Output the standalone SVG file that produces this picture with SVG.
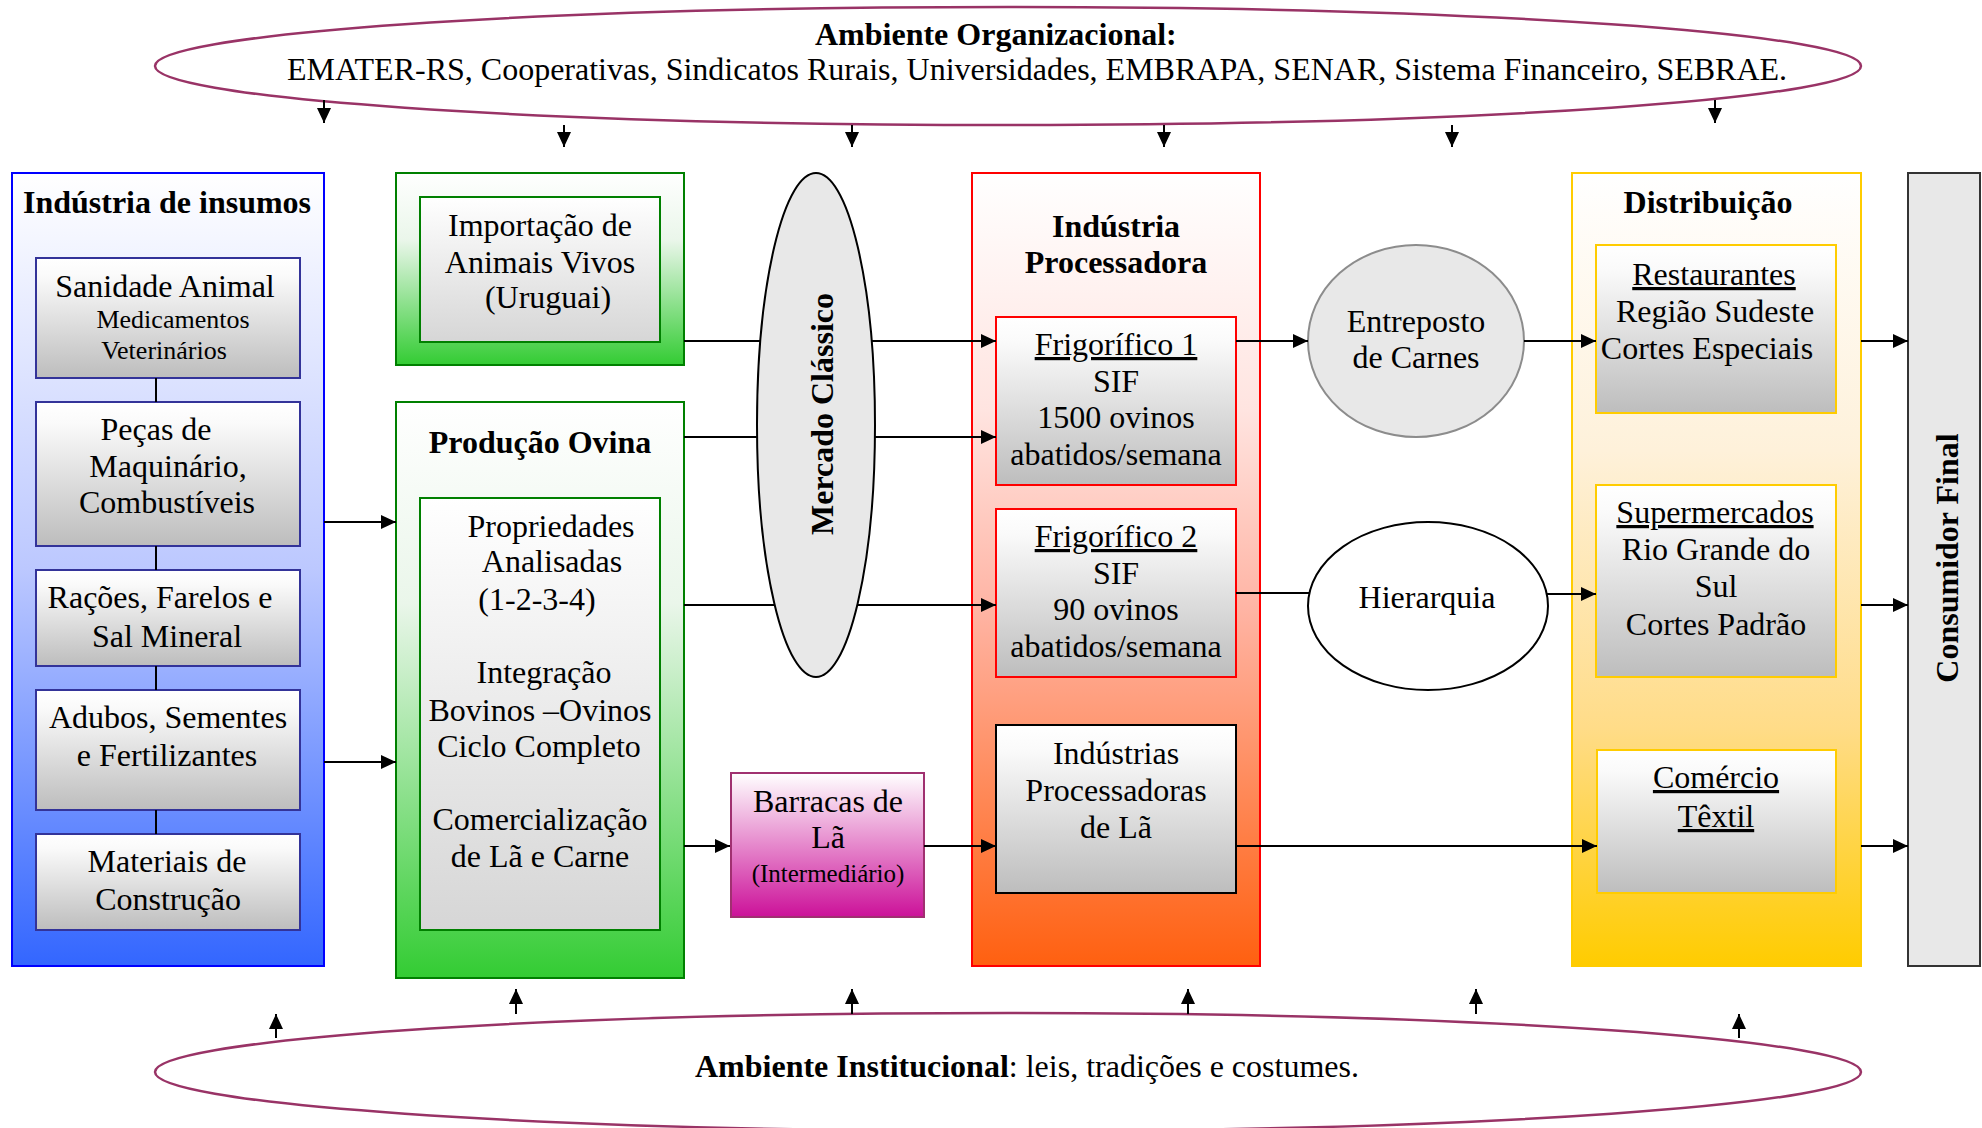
<svg xmlns="http://www.w3.org/2000/svg" width="1982" height="1128" viewBox="0 0 1982 1128">
<defs>
<style>
text{font-family:"Liberation Serif","Times New Roman",serif;font-size:32px;fill:#000}
.b{font-weight:bold}
.c{text-anchor:middle}
.s26{font-size:26px}
.s25{font-size:25px}
.u{text-decoration:underline}
.ln{stroke:#000;stroke-width:2;fill:none}
.ar{stroke:#000;stroke-width:2;fill:none;marker-end:url(#ah)}
.env{fill:none;stroke:#993366;stroke-width:2.5}
</style>
<marker id="ah" markerUnits="userSpaceOnUse" markerWidth="16" markerHeight="14" refX="15" refY="7" orient="auto">
<path d="M0,0 L15,7 L0,14 z" fill="#000"/>
</marker>
<linearGradient id="gBlue" x1="0" y1="0" x2="0" y2="1"><stop offset="0" stop-color="#ffffff"/><stop offset="0.5" stop-color="#bcc8ff"/><stop offset="1" stop-color="#3366ff"/></linearGradient>
<linearGradient id="gGreen" x1="0" y1="0" x2="0" y2="1"><stop offset="0" stop-color="#ffffff"/><stop offset="0.35" stop-color="#eaf6ea"/><stop offset="1" stop-color="#33cc33"/></linearGradient>
<linearGradient id="gRed" x1="0" y1="0" x2="0" y2="1"><stop offset="0" stop-color="#ffffff"/><stop offset="0.3" stop-color="#ffe4e0"/><stop offset="0.55" stop-color="#ffb4a4"/><stop offset="1" stop-color="#ff6010"/></linearGradient>
<linearGradient id="gYel" x1="0" y1="0" x2="0" y2="1"><stop offset="0" stop-color="#ffffff"/><stop offset="0.35" stop-color="#fef1da"/><stop offset="0.7" stop-color="#ffdc88"/><stop offset="1" stop-color="#ffcc00"/></linearGradient>
<linearGradient id="gMag" x1="0" y1="0" x2="0" y2="1"><stop offset="0" stop-color="#ffffff"/><stop offset="1" stop-color="#cc1199"/></linearGradient>
<linearGradient id="gGray" x1="0" y1="0" x2="0" y2="1"><stop offset="0" stop-color="#ffffff"/><stop offset="0.15" stop-color="#fafafa"/><stop offset="1" stop-color="#bdbdbd"/></linearGradient>
<linearGradient id="gGrayL" x1="0" y1="0" x2="0" y2="1"><stop offset="0" stop-color="#ffffff"/><stop offset="1" stop-color="#d6d6d6"/></linearGradient>
</defs>
<rect width="1982" height="1128" fill="#ffffff"/>

<g id="ambiente-organizacional">
<ellipse class="env" cx="1008" cy="66" rx="853" ry="59"/>
<text class="b" x="815" y="45">Ambiente Organizacional:</text>
<text x="287" y="80">EMATER-RS, Cooperativas, Sindicatos Rurais, Universidades, EMBRAPA, SENAR, Sistema Financeiro, SEBRAE.</text>
</g>

<g id="ambiente-institucional">
<ellipse class="env" cx="1008" cy="1072" rx="853" ry="59"/>
<text x="695" y="1077"><tspan class="b">Ambiente Institucional</tspan>: leis, tradições e costumes.</text>
</g>

<g id="industria-insumos">
<rect x="12" y="173" width="312" height="793" fill="url(#gBlue)" stroke="#0000ff" stroke-width="2"/>
<text class="b c" x="167" y="213">Indústria de insumos</text>
</g>
<g id="sanidade-animal">
<rect x="36" y="258" width="264" height="120" fill="url(#gGray)" stroke="#333399" stroke-width="2"/>
<text class="c" x="165" y="297">Sanidade Animal</text>
<text class="c s26" x="173" y="328">Medicamentos</text>
<text class="c s26" x="164" y="359">Veterinários</text>
</g>
<g id="pecas">
<rect x="36" y="402" width="264" height="144" fill="url(#gGray)" stroke="#333399" stroke-width="2"/>
<text class="c" x="156" y="440">Peças de</text>
<text class="c" x="168" y="477">Maquinário,</text>
<text class="c" x="167" y="513">Combustíveis</text>
</g>
<g id="racoes">
<rect x="36" y="570" width="264" height="96" fill="url(#gGray)" stroke="#333399" stroke-width="2"/>
<text class="c" x="160" y="608">Rações, Farelos e</text>
<text class="c" x="167" y="647">Sal Mineral</text>
</g>
<g id="adubos">
<rect x="36" y="690" width="264" height="120" fill="url(#gGray)" stroke="#333399" stroke-width="2"/>
<text class="c" x="168" y="728">Adubos, Sementes</text>
<text class="c" x="167" y="766">e Fertilizantes</text>
</g>
<g id="materiais">
<rect x="36" y="834" width="264" height="96" fill="url(#gGray)" stroke="#333399" stroke-width="2"/>
<text class="c" x="167" y="872">Materiais de</text>
<text class="c" x="168" y="910">Construção</text>
</g>

<g id="importacao">
<rect x="396" y="173" width="288" height="192" fill="url(#gGreen)" stroke="#008000" stroke-width="2"/>
<rect x="420" y="197" width="240" height="145" fill="url(#gGrayL)" stroke="#008000" stroke-width="2"/>
<text class="c" x="540" y="236">Importação de</text>
<text class="c" x="540" y="273">Animais Vivos</text>
<text class="c" x="548" y="308">(Uruguai)</text>
</g>

<g id="producao-ovina">
<rect x="396" y="402" width="288" height="576" fill="url(#gGreen)" stroke="#008000" stroke-width="2"/>
<text class="b c" x="540" y="453">Produção Ovina</text>
<rect x="420" y="498" width="240" height="432" fill="url(#gGrayL)" stroke="#008000" stroke-width="2"/>
<text class="c" x="551" y="537">Propriedades</text>
<text class="c" x="552" y="572">Analisadas</text>
<text class="c" x="537" y="610">(1-2-3-4)</text>
<text class="c" x="544" y="683">Integração</text>
<text class="c" x="540" y="721">Bovinos –Ovinos</text>
<text class="c" x="539" y="757">Ciclo Completo</text>
<text class="c" x="540" y="830">Comercialização</text>
<text class="c" x="540" y="867">de Lã e Carne</text>
</g>

<g id="mercado-classico">
<ellipse cx="816" cy="425" rx="59" ry="252" fill="#e8e8e8" stroke="#000" stroke-width="2"/>
<text class="b c" transform="translate(833,414) rotate(-90)">Mercado Clássico</text>
</g>

<g id="barracas">
<rect x="731" y="773" width="193" height="144" fill="url(#gMag)" stroke="#a03070" stroke-width="2"/>
<text class="c" x="828" y="812">Barracas de</text>
<text class="c" x="828" y="848">Lã</text>
<text class="c s25" x="828" y="882">(Intermediário)</text>
</g>

<g id="industria-processadora">
<rect x="972" y="173" width="288" height="793" fill="url(#gRed)" stroke="#ff0000" stroke-width="2"/>
<text class="b c" x="1116" y="237">Indústria</text>
<text class="b c" x="1116" y="273">Processadora</text>
</g>
<g id="frigorifico-1">
<rect x="996" y="317" width="240" height="168" fill="url(#gGray)" stroke="#ff0000" stroke-width="2"/>
<text class="c u" x="1116" y="355">Frigorífico 1</text>
<text class="c" x="1116" y="392">SIF</text>
<text class="c" x="1116" y="428">1500 ovinos</text>
<text class="c" x="1116" y="465">abatidos/semana</text>
</g>
<g id="frigorifico-2">
<rect x="996" y="509" width="240" height="168" fill="url(#gGray)" stroke="#ff0000" stroke-width="2"/>
<text class="c u" x="1116" y="547">Frigorífico 2</text>
<text class="c" x="1116" y="584">SIF</text>
<text class="c" x="1116" y="620">90 ovinos</text>
<text class="c" x="1116" y="657">abatidos/semana</text>
</g>
<g id="industrias-la">
<rect x="996" y="725" width="240" height="168" fill="url(#gGray)" stroke="#000" stroke-width="2"/>
<text class="c" x="1116" y="764">Indústrias</text>
<text class="c" x="1116" y="801">Processadoras</text>
<text class="c" x="1116" y="838">de Lã</text>
</g>

<g id="entreposto">
<ellipse cx="1416" cy="341" rx="108" ry="96" fill="#e8e8e8" stroke="#8c8c8c" stroke-width="2"/>
<text class="c" x="1416" y="332">Entreposto</text>
<text class="c" x="1416" y="368">de Carnes</text>
</g>

<g id="hierarquia">
<ellipse cx="1428" cy="606" rx="120" ry="84" fill="#ffffff" stroke="#000" stroke-width="2"/>
<text class="c" x="1427" y="608">Hierarquia</text>
</g>

<g id="distribuicao">
<rect x="1572" y="173" width="289" height="793" fill="url(#gYel)" stroke="#ffcc00" stroke-width="2"/>
<text class="b c" x="1708" y="213">Distribuição</text>
</g>
<g id="restaurantes">
<rect x="1596" y="245" width="240" height="168" fill="url(#gGray)" stroke="#ffcc00" stroke-width="2"/>
<text class="c u" x="1714" y="285">Restaurantes</text>
<text class="c" x="1715" y="322">Região Sudeste</text>
<text class="c" x="1707" y="359">Cortes Especiais</text>
</g>
<g id="supermercados">
<rect x="1596" y="485" width="240" height="192" fill="url(#gGray)" stroke="#ffcc00" stroke-width="2"/>
<text class="c u" x="1715" y="523">Supermercados</text>
<text class="c" x="1716" y="560">Rio Grande do</text>
<text class="c" x="1716" y="597">Sul</text>
<text class="c" x="1716" y="635">Cortes Padrão</text>
</g>
<g id="comercio-textil">
<rect x="1597" y="750" width="239" height="143" fill="url(#gGray)" stroke="#ffcc00" stroke-width="2"/>
<text class="c u" x="1716" y="788">Comércio</text>
<text class="c u" x="1716" y="827">Têxtil</text>
</g>

<g id="consumidor-final">
<rect x="1908" y="173" width="72" height="793" fill="#e8e8e8" stroke="#333333" stroke-width="2"/>
<text class="b c" transform="translate(1958,558) rotate(-90)">Consumidor Final</text>
</g>

<g id="connectors">
<line class="ar" x1="324" y1="100" x2="324" y2="123"/>
<line class="ar" x1="564" y1="125" x2="564" y2="147"/>
<line class="ar" x1="852" y1="125" x2="852" y2="147"/>
<line class="ar" x1="1164" y1="125" x2="1164" y2="147"/>
<line class="ar" x1="1452" y1="125" x2="1452" y2="147"/>
<line class="ar" x1="1715" y1="100" x2="1715" y2="123"/>
<line class="ar" x1="276" y1="1038" x2="276" y2="1014"/>
<line class="ar" x1="516" y1="1014" x2="516" y2="989"/>
<line class="ar" x1="852" y1="1014" x2="852" y2="989"/>
<line class="ar" x1="1188" y1="1014" x2="1188" y2="989"/>
<line class="ar" x1="1476" y1="1014" x2="1476" y2="989"/>
<line class="ar" x1="1739" y1="1038" x2="1739" y2="1014"/>
<line class="ln" x1="156" y1="378" x2="156" y2="402"/>
<line class="ln" x1="156" y1="546" x2="156" y2="570"/>
<line class="ln" x1="156" y1="666" x2="156" y2="690"/>
<line class="ln" x1="156" y1="810" x2="156" y2="834"/>
<line class="ar" x1="324" y1="522" x2="396" y2="522"/>
<line class="ar" x1="324" y1="762" x2="396" y2="762"/>
<line class="ln" x1="684" y1="341" x2="760" y2="341"/>
<line class="ar" x1="872" y1="341" x2="996" y2="341"/>
<line class="ln" x1="684" y1="437" x2="757" y2="437"/>
<line class="ar" x1="875" y1="437" x2="996" y2="437"/>
<line class="ln" x1="684" y1="605" x2="775" y2="605"/>
<line class="ar" x1="857" y1="605" x2="996" y2="605"/>
<line class="ar" x1="684" y1="846" x2="730" y2="846"/>
<line class="ar" x1="924" y1="846" x2="996" y2="846"/>
<line class="ar" x1="1236" y1="341" x2="1308" y2="341"/>
<line class="ar" x1="1524" y1="341" x2="1596" y2="341"/>
<line class="ln" x1="1236" y1="593" x2="1309" y2="593"/>
<line class="ar" x1="1547" y1="594" x2="1596" y2="594"/>
<line class="ar" x1="1236" y1="846" x2="1597" y2="846"/>
<line class="ar" x1="1861" y1="341" x2="1908" y2="341"/>
<line class="ar" x1="1861" y1="605" x2="1908" y2="605"/>
<line class="ar" x1="1861" y1="846" x2="1908" y2="846"/>
</g>
</svg>
